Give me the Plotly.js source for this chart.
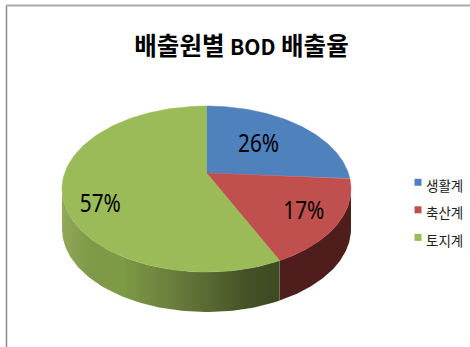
<!DOCTYPE html>
<html><head><meta charset="utf-8">
<script src="https://cdn.plot.ly/plotly-3.0.1.min.js"></script>
<style>html,body{margin:0;padding:0;background:#fff}#c{width:470px;height:347px}</style>
</head><body><div id="c"></div>
<script>
const categories = ['생활계', '축산계', '토지계'];
const shares = [26, 17, 57];
const topColors = ['#4f81bd', '#c0504d', '#9bbb59'];
const wallScales = [
  null,
  [[0, '#4f1e1c'], [1, '#4f1e1c']],
  [[0, '#90a95a'], [0.12, '#7f9a48'], [0.28, '#7d9a45'], [0.55, '#66793a'], [0.85, '#445226'], [1, '#3d4a22']]
];
const labelReach = [0.57, 0.74, 0.735];
const labelDrop = [0, 2, 19];

// pie geometry, in the pixel-sized units of the axes
const cx = 206.5, cy = 189, rx = 144.5, ry = 83, depth = 40;
const apexLift = 16;
const tilt = 0.097;

// true pie angle (clockwise from 12 o'clock, deg) -> angle on the tilted ellipse (rad, y down)
function projected(deg) {
  const t = (90 - deg) * Math.PI / 180;
  const zr = Math.cos(t), zi = Math.sin(t);
  const nr = zr, ni = zi + tilt;
  const dr = 1 + tilt * zi, di = -tilt * zr;
  return Math.atan2(ni, nr) - Math.atan2(di, dr);
}
const rim = (phi, drop = 0) => [cx + rx * Math.cos(phi), cy - ry * Math.sin(phi) + drop];

function arc(startDeg, endDeg) {
  const pts = [];
  for (let d = startDeg; d <= endDeg + 1e-6; d += (endDeg - startDeg) / 120) pts.push(rim(projected(d)));
  return pts;
}

const total = shares.reduce((a, b) => a + b, 0);
let run = 0;
const wedges = shares.map(v => {
  const a = run / total * 360; run += v;
  return [a, run / total * 360];
});

const traces = [];

// side walls: only the front half of the rim is visible
wedges.forEach((w, i) => {
  if (!wallScales[i]) return;
  const s = Math.max(w[0], 90), e = Math.min(w[1], 360);
  const pts = [];
  for (let k = 0; k <= 160; k++) {
    const d = s + (e - s) * k / 160;
    const phi = projected(d);
    if (Math.sin(phi) <= 0) pts.push(rim(phi));
  }
  const back = pts.slice().reverse().map(p => [p[0], p[1] + depth]);
  const all = pts.concat(back);
  traces.push({
    type: 'scatter', mode: 'lines', x: all.map(p => p[0]), y: all.map(p => p[1]),
    line: {width: 0, color: wallScales[i][0][1]}, fill: 'toself',
    fillgradient: {type: 'horizontal', colorscale: wallScales[i]},
    hoverinfo: 'skip', showlegend: false
  });
});

// top faces
wedges.forEach((w, i) => {
  const pts = [[cx, cy - apexLift]].concat(arc(w[0], w[1]));
  pts.push([cx, cy - apexLift]);
  traces.push({
    type: 'scatter', mode: 'lines', x: pts.map(p => p[0]), y: pts.map(p => p[1]),
    line: {width: 0.5, color: topColors[i]}, fill: 'toself', fillcolor: topColors[i],
    name: categories[i], hoverinfo: 'name', showlegend: false
  });
});

// percentage labels
const labelPts = wedges.map((w, i) => {
  const p = rim(projected((w[0] + w[1]) / 2));
  const ax = cx, ay = cy - apexLift;
  return [ax + (p[0] - ax) * labelReach[i], ay + (p[1] - ay) * labelReach[i] + labelDrop[i]];
});
traces.push({
  type: 'scatter', mode: 'text', x: labelPts.map(p => p[0]), y: labelPts.map(p => p[1]),
  text: shares.map(v => v + '%'), textposition: 'middle center',
  textfont: {family: '"Noto Sans",sans-serif', size: 25, color: '#000'},
  hoverinfo: 'skip', showlegend: false
});

// legend entries
categories.forEach((c, i) => traces.push({
  type: 'scatter', mode: 'markers', x: [null], y: [null], name: c, legendgroup: c,
  marker: {symbol: 'square', size: 7, color: topColors[i]}
}));

const layout = {
  width: 470, height: 347, margin: {l: 0, r: 0, t: 0, b: 0},
  paper_bgcolor: '#fff', plot_bgcolor: '#fff',
  xaxis: {range: [0, 470], visible: false, fixedrange: true},
  yaxis: {range: [347, 0], visible: false, fixedrange: true},
  title: {
    text: '<b>배출원별 <span style="font-size:21px">BOD</span> 배출율</b>', x: 241.5 / 470, xanchor: 'center', y: 1 - 46 / 347, yanchor: 'middle',
    font: {family: '"Noto Sans CJK KR","Noto Sans",sans-serif', size: 24.5, color: '#000'}
  },
  showlegend: true,
  legend: {
    x: 386 / 470, xanchor: 'left', y: 1 - 170 / 347, yanchor: 'top', tracegroupgap: 7,
    bgcolor: 'rgba(0,0,0,0)', itemclick: false, itemdoubleclick: false,
    font: {family: '"Noto Sans CJK KR","Noto Sans",sans-serif', size: 13.5, color: '#222'}
  },
  shapes: [
    {type: 'line', xref: 'paper', yref: 'paper', x0: 6.5 / 470, x1: 6.5 / 470, y0: 0, y1: 1 - 5 / 347, line: {color: '#8c8c8c', width: 1.5}},
    {type: 'line', xref: 'paper', yref: 'paper', x0: 6 / 470, x1: 1, y0: 1 - 5.5 / 347, y1: 1 - 5.5 / 347, line: {color: '#aaaaaa', width: 2}}
  ]
};

Plotly.newPlot('c', traces, layout, {displayModeBar: false, staticPlot: true}).then(() => {
  // small legend swatch sits close to its text, slightly above it
  document.querySelectorAll('.legend .legendpoints').forEach(g => g.setAttribute('transform', 'translate(12,-3)'));
  // percentage labels use a condensed face in the reference
  document.querySelectorAll('.textpoint text').forEach(t => {
    t.setAttribute('textLength', '41');
    t.setAttribute('lengthAdjust', 'spacingAndGlyphs');
  });
});
</script></body></html>
